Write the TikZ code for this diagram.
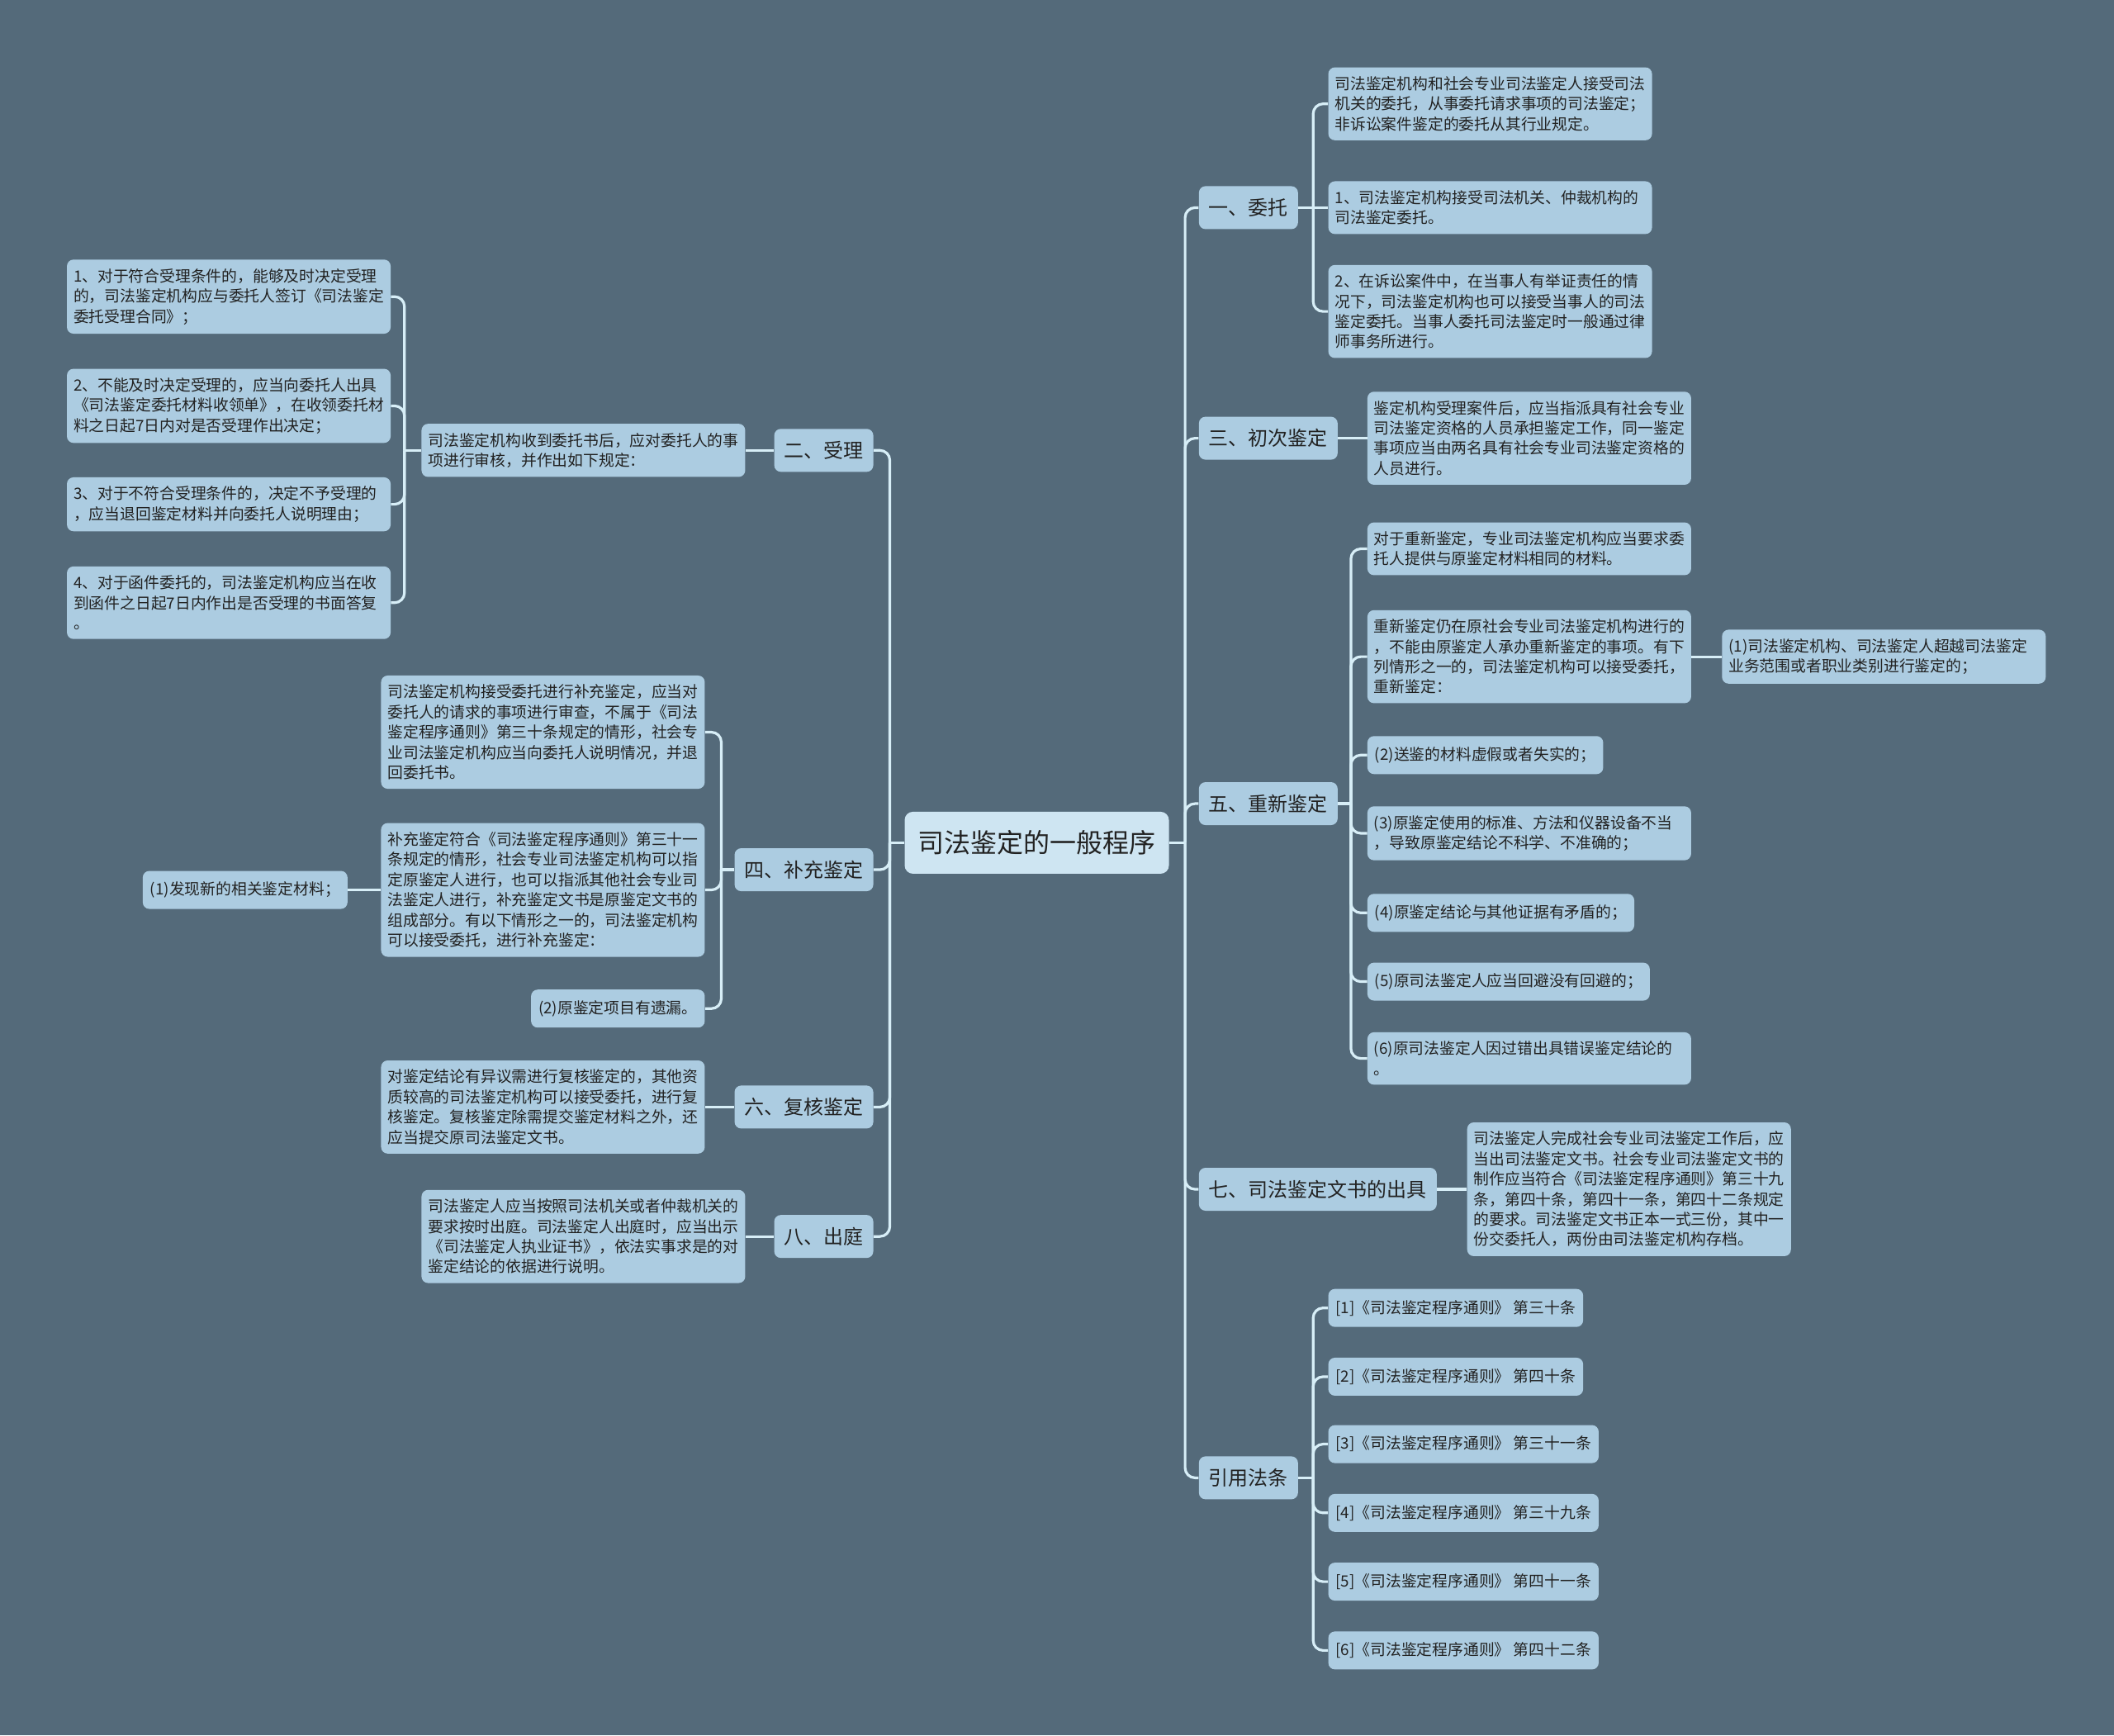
\documentclass[tikz,border=0pt]{standalone}
\usepackage{fontspec}
\newfontfamily\cjk{Noto Sans CJK SC}
\usepackage{tikz}

\definecolor{bgslate}{RGB}{84,106,122}
\definecolor{boxblue}{RGB}{172,204,225}
\definecolor{rootblue}{RGB}{206,229,242}
\definecolor{linecyan}{RGB}{215,238,247}
\definecolor{inkgray}{RGB}{34,34,34}

\begin{document}
\begin{tikzpicture}[x=0.8163pt,y=-0.8163pt,
    root/.style={fill=rootblue, rounded corners=5pt, text=inkgray,
      font=\cjk\fontsize{16pt}{20pt}\selectfont, inner xsep=8pt, minimum height=37.5pt},
    topic/.style={fill=boxblue, rounded corners=4pt, text=inkgray,
      font=\cjk\fontsize{12pt}{15pt}\selectfont, inner xsep=6pt, minimum height=26pt},
    leaf/.style={fill=boxblue, rounded corners=4pt, text=inkgray, align=left,
      font=\cjk\fontsize{9.4pt}{12.2pt}\selectfont, inner xsep=4.5pt, inner ysep=5.5pt,
      minimum height=23pt},
    para/.style={leaf, inner xsep=4pt, text width=188pt},
    link/.style={draw=linecyan, line width=1.6pt, rounded corners=6pt}]
    % Background
    \useasboundingbox (0,0) rectangle (1568,1287);
    \fill[bgslate] (0,0) rectangle (1568,1287);

    % Root
    \node[root] (root) at (769,625) {司法鉴定的一般程序};
    \coordinate (rj) at (879,625);
    \coordinate (lj) at (660,625);

    % Topics (right)
    \node[topic, anchor=west] (t1) at (889,154) {一、委托};
    \node[topic, anchor=west] (t3) at (889,325) {三、初次鉴定};
    \node[topic, anchor=west] (t5) at (889,596) {五、重新鉴定};
    \node[topic, anchor=west] (t7) at (889,882) {七、司法鉴定文书的出具};
    \node[topic, anchor=west] (tr) at (889,1096) {引用法条};

    % Topics (left)
    \node[topic, anchor=east] (t2) at (648,334) {二、受理};
    \node[topic, anchor=east] (t4) at (648,645) {四、补充鉴定};
    \node[topic, anchor=east] (t6) at (648,821) {六、复核鉴定};
    \node[topic, anchor=east] (t8) at (648,917) {八、出庭};

    % 一、委托
    \coordinate (j1) at (974,154);
    \node[para, anchor=west] (a11) at (985,77) {司法鉴定机构和社会专业司法鉴定人接受司法\\机关的委托，从事委托请求事项的司法鉴定；\\非诉讼案件鉴定的委托从其行业规定。};
    \node[para, anchor=west] (a12) at (985,154) {1、司法鉴定机构接受司法机关、仲裁机构的\\司法鉴定委托。};
    \node[para, anchor=west] (a13) at (985,231) {2、在诉讼案件中，在当事人有举证责任的情\\况下，司法鉴定机构也可以接受当事人的司法\\鉴定委托。当事人委托司法鉴定时一般通过律\\师事务所进行。};

    % 三、初次鉴定
    \node[para, anchor=west] (a31) at (1014,325) {鉴定机构受理案件后，应当指派具有社会专业\\司法鉴定资格的人员承担鉴定工作，同一鉴定\\事项应当由两名具有社会专业司法鉴定资格的\\人员进行。};

    % 五、重新鉴定
    \coordinate (j5) at (1002,596);
    \node[para, anchor=west] (a51) at (1014,407) {对于重新鉴定，专业司法鉴定机构应当要求委\\托人提供与原鉴定材料相同的材料。};
    \node[para, anchor=west] (a52) at (1014,487) {重新鉴定仍在原社会专业司法鉴定机构进行的\\，不能由原鉴定人承办重新鉴定的事项。有下\\列情形之一的，司法鉴定机构可以接受委托，\\重新鉴定：};
    \node[para, anchor=west] (a521) at (1277,487) {(1)司法鉴定机构、司法鉴定人超越司法鉴定\\业务范围或者职业类别进行鉴定的；};
    \node[leaf, anchor=west] (a53) at (1014,560) {(2)送鉴的材料虚假或者失实的；};
    \node[para, anchor=west] (a54) at (1014,618) {(3)原鉴定使用的标准、方法和仪器设备不当\\，导致原鉴定结论不科学、不准确的；};
    \node[leaf, anchor=west] (a55) at (1014,677) {(4)原鉴定结论与其他证据有矛盾的；};
    \node[leaf, anchor=west] (a56) at (1014,728) {(5)原司法鉴定人应当回避没有回避的；};
    \node[para, anchor=west] (a57) at (1014,785) {(6)原司法鉴定人因过错出具错误鉴定结论的\\。};

    % 七、司法鉴定文书的出具
    \node[para, anchor=west] (a71) at (1088,882) {司法鉴定人完成社会专业司法鉴定工作后，应\\当出司法鉴定文书。社会专业司法鉴定文书的\\制作应当符合《司法鉴定程序通则》第三十九\\条，第四十条，第四十一条，第四十二条规定\\的要求。司法鉴定文书正本一式三份，其中一\\份交委托人，两份由司法鉴定机构存档。};

    % 引用法条
    \coordinate (jr) at (974,1096);
    \node[leaf, anchor=west] (r1) at (985,970) {[1]《司法鉴定程序通则》 第三十条};
    \node[leaf, anchor=west] (r2) at (985,1021) {[2]《司法鉴定程序通则》 第四十条};
    \node[leaf, anchor=west] (r3) at (985,1071) {[3]《司法鉴定程序通则》 第三十一条};
    \node[leaf, anchor=west] (r4) at (985,1122) {[4]《司法鉴定程序通则》 第三十九条};
    \node[leaf, anchor=west] (r5) at (985,1173) {[5]《司法鉴定程序通则》 第四十一条};
    \node[leaf, anchor=west] (r6) at (985,1224) {[6]《司法鉴定程序通则》 第四十二条};

    % 二、受理
    \coordinate (j2) at (300,334);
    \node[para, anchor=east] (a21) at (553,334) {司法鉴定机构收到委托书后，应对委托人的事\\项进行审核，并作出如下规定：};
    \node[para, anchor=east] (g1) at (290,220) {1、对于符合受理条件的，能够及时决定受理\\的，司法鉴定机构应与委托人签订《司法鉴定\\委托受理合同》；};
    \node[para, anchor=east] (g2) at (290,301) {2、不能及时决定受理的，应当向委托人出具\\《司法鉴定委托材料收领单》，在收领委托材\\料之日起7日内对是否受理作出决定；};
    \node[para, anchor=east] (g3) at (290,374) {3、对于不符合受理条件的，决定不予受理的\\，应当退回鉴定材料并向委托人说明理由；};
    \node[para, anchor=east] (g4) at (290,447) {4、对于函件委托的，司法鉴定机构应当在收\\到函件之日起7日内作出是否受理的书面答复\\。};

    % 四、补充鉴定
    \coordinate (j4) at (535,645);
    \node[para, anchor=east] (a41) at (523,543) {司法鉴定机构接受委托进行补充鉴定，应当对\\委托人的请求的事项进行审查，不属于《司法\\鉴定程序通则》第三十条规定的情形，社会专\\业司法鉴定机构应当向委托人说明情况，并退\\回委托书。};
    \node[para, anchor=east] (a42) at (523,660) {补充鉴定符合《司法鉴定程序通则》第三十一\\条规定的情形，社会专业司法鉴定机构可以指\\定原鉴定人进行，也可以指派其他社会专业司\\法鉴定人进行，补充鉴定文书是原鉴定文书的\\组成部分。有以下情形之一的，司法鉴定机构\\可以接受委托，进行补充鉴定：};
    \node[leaf, anchor=east] (a421) at (258,660) {(1)发现新的相关鉴定材料；};
    \node[leaf, anchor=east] (a43) at (523,748) {(2)原鉴定项目有遗漏。};

    % 六、复核鉴定
    \node[para, anchor=east] (a61) at (523,821) {对鉴定结论有异议需进行复核鉴定的，其他资\\质较高的司法鉴定机构可以接受委托，进行复\\核鉴定。复核鉴定除需提交鉴定材料之外，还\\应当提交原司法鉴定文书。};

    % 八、出庭
    \node[para, anchor=east] (a81) at (553,917) {司法鉴定人应当按照司法机关或者仲裁机关的\\要求按时出庭。司法鉴定人出庭时，应当出示\\《司法鉴定人执业证书》，依法实事求是的对\\鉴定结论的依据进行说明。};

    % Connectors: root to topics
    \draw[link] (root.east) -- (rj);
    \draw[link] (root.west) -- (lj);
    \draw[link] (rj) |- (t1.west);
    \draw[link] (rj) |- (t3.west);
    \draw[link] (rj) |- (t5.west);
    \draw[link] (rj) |- (t7.west);
    \draw[link] (rj) |- (tr.west);
    \draw[link] (lj) |- (t2.east);
    \draw[link] (lj) |- (t4.east);
    \draw[link] (lj) |- (t6.east);
    \draw[link] (lj) |- (t8.east);

    % Connectors: right branches
    \draw[link] (t1.east) -- (j1);
    \draw[link] (j1) |- (a11.west);
    \draw[link] (j1) -- (a12.west);
    \draw[link] (j1) |- (a13.west);
    \draw[link] (t3.east) -- (a31.west);
    \draw[link] (t5.east) -- (j5);
    \draw[link] (j5) |- (a51.west);
    \draw[link] (j5) |- (a52.west);
    \draw[link] (j5) |- (a53.west);
    \draw[link] (j5) |- (a54.west);
    \draw[link] (j5) |- (a55.west);
    \draw[link] (j5) |- (a56.west);
    \draw[link] (j5) |- (a57.west);
    \draw[link] (a52.east) -- (a521.west);
    \draw[link] (t7.east) -- (a71.west);
    \draw[link] (tr.east) -- (jr);
    \draw[link] (jr) |- (r1.west);
    \draw[link] (jr) |- (r2.west);
    \draw[link] (jr) |- (r3.west);
    \draw[link] (jr) |- (r4.west);
    \draw[link] (jr) |- (r5.west);
    \draw[link] (jr) |- (r6.west);

    % Connectors: left branches
    \draw[link] (t2.west) -- (a21.east);
    \draw[link] (a21.west) -- (j2);
    \draw[link] (j2) |- (g1.east);
    \draw[link] (j2) |- (g2.east);
    \draw[link] (j2) |- (g3.east);
    \draw[link] (j2) |- (g4.east);
    \draw[link] (t4.west) -- (j4);
    \draw[link] (j4) |- (a41.east);
    \draw[link] (j4) |- (a42.east);
    \draw[link] (j4) |- (a43.east);
    \draw[link] (a42.west) -- (a421.east);
    \draw[link] (t6.west) -- (a61.east);
    \draw[link] (t8.west) -- (a81.east);
  \end{tikzpicture}
\end{document}
